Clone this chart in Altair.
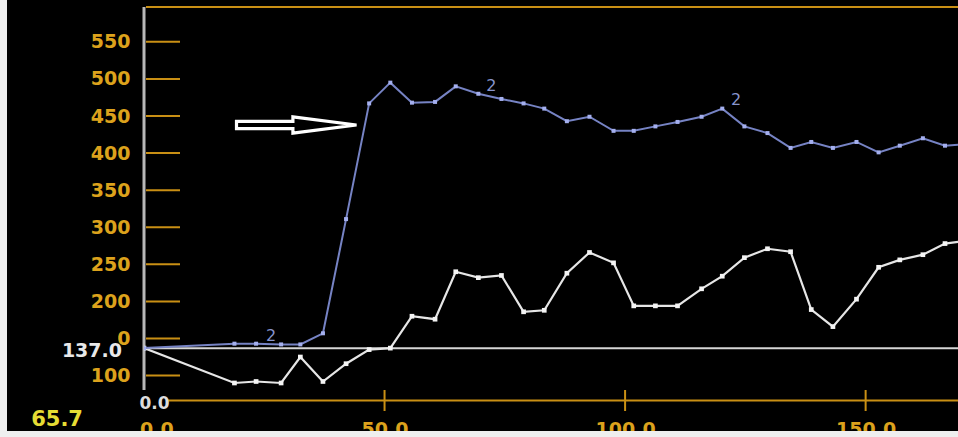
import altair as alt
import pandas as pd

# ---- data -------------------------------------------------------------
# sample positions shared by both traces
x_vals = [0, 18.8, 23.3, 28.5, 32.5, 37.2, 42.0, 46.8, 51.2, 55.7, 60.5, 64.8,
          69.5, 74.3, 78.9, 83.2, 87.9, 92.6, 97.6, 101.8, 106.3, 110.9, 115.9,
          120.2, 124.8, 129.6, 134.4, 138.7, 143.2, 148.1, 152.7, 157.1, 161.9,
          166.5, 171.0]
blue_vals = [137, 143, 143, 142, 142, 157, 311, 467, 495, 468, 469, 490,
             480, 473, 467, 460, 443, 449, 430, 430, 436, 442, 449,
             460, 436, 427, 407, 415, 407, 415, 401, 410, 420,
             410, 412]
white_vals = [137, 90, 92, 90, 125, 92, 116, 135, 137, 180, 176, 240,
              232, 235, 186, 188, 238, 266, 252, 194, 194, 194, 217,
              234, 259, 271, 267, 189, 166, 203, 246, 256, 263,
              278, 282]

# "2" markers on the blue trace
mark2_x = [26.4, 72.2, 123.1]
mark2_y = [154, 490, 471]
mark2_text = ["2", "2", "2"]

y_ticks = [100, 150, 200, 250, 300, 350, 400, 450, 500, 550]
x_ticks = [0, 50, 100, 150]
x_tick_marks = [50, 100, 150]

baseline_value = 137.0
y_min_value = 65.7
y_max_value = 597
x_max_value = 169.2

# arrow pointing at the sharp rise of the blue trace
arrow_x = [31.7]
arrow_y = [437.9]

# ---- styling ----------------------------------------------------------
ORANGE = "#c98f14"
LABEL = "#dca21c"
FONT = "DejaVu Sans"
W, H = 814, 394

xscale = alt.Scale(domain=[0, x_max_value], nice=False, zero=False)
yscale = alt.Scale(domain=[y_min_value, y_max_value], nice=False, zero=False)

xaxis = alt.Axis(values=x_ticks, format=".1f", domain=False, ticks=False, grid=False,
                 labelColor=LABEL, labelFont=FONT, labelFontWeight="bold",
                 labelFontSize=19, labelPadding=19, labelBaseline="top",
                 labelFlush=True, labelFlushOffset=4.5, title=None, orient="bottom")
yaxis = alt.Axis(values=y_ticks, format="d", domain=False, ticks=False, grid=False,
                 labelColor=LABEL, labelFont=FONT, labelFontWeight="bold",
                 labelFontSize=19, labelPadding=14, title=None, orient="left")


def X(field):
    return alt.X(field, type="quantitative", scale=xscale, axis=xaxis)


def Y(field):
    return alt.Y(field, type="quantitative", scale=yscale, axis=yaxis)


series = pd.DataFrame({"x": x_vals, "blue": blue_vals, "white": white_vals})
ytick_df = pd.DataFrame({"v": y_ticks})
xtick_df = pd.DataFrame({"t": x_tick_marks})
base_df = pd.DataFrame({"v": [baseline_value]})
mark2_df = pd.DataFrame({"x": mark2_x, "y": mark2_y, "txt": mark2_text})
arrow_df = pd.DataFrame({"x": arrow_x, "y": arrow_y})
one = pd.DataFrame({"x": [0], "y": [y_min_value], "b": [baseline_value]})

# inward y ticks
y_tick_rules = alt.Chart(ytick_df).mark_rule(color=ORANGE, strokeWidth=2).encode(
    y=Y("v"), x=alt.value(2), x2=alt.value(36))

# frame lines
top_line = alt.Chart(one).mark_rule(color=ORANGE, strokeWidth=2).encode(
    x=alt.value(2), x2=alt.value(W), y=alt.value(0))
x_line = alt.Chart(one).mark_rule(color=ORANGE, strokeWidth=2).encode(
    x=alt.value(24), x2=alt.value(W), y=alt.value(393.5))
x_tick_rules = alt.Chart(xtick_df).mark_rule(color=ORANGE, strokeWidth=2).encode(
    x=X("t"), y=alt.value(383), y2=alt.value(404))
y_line = alt.Chart(one).mark_rule(color="#b8b8b8", strokeWidth=3).encode(
    x=alt.value(0), y=alt.value(0), y2=alt.value(383))

# baseline at 137.0
base_rule = alt.Chart(base_df).mark_rule(color="#d6d6d6", strokeWidth=2).encode(
    y=Y("v"), x=alt.value(0), x2=alt.value(W))

white_line = alt.Chart(series).mark_line(color="#e6e6e6", strokeWidth=2.2, clip=True).encode(
    x=X("x"), y=Y("white"))
white_pts = alt.Chart(series).mark_point(shape="square", size=22, filled=True,
                                         color="#f4f4f4", opacity=1, clip=True).encode(
    x=X("x"), y=Y("white"))

blue_line = alt.Chart(series).mark_line(color="#7683c4", strokeWidth=2, clip=True).encode(
    x=X("x"), y=Y("blue"))
blue_pts = alt.Chart(series).mark_point(shape="square", size=16, filled=True,
                                        color="#a4afee", opacity=1, clip=True).encode(
    x=X("x"), y=Y("blue"))

mark2 = alt.Chart(mark2_df).mark_text(font=FONT, fontSize=16, color="#8794cc",
                                      baseline="middle", align="center").encode(
    x=X("x"), y=Y("y"), text="txt:N")

arrow_path = ("M -1 -0.06 L -0.06 -0.06 L -0.06 -0.135 L 1 0 "
              "L -0.06 0.135 L -0.06 0.06 L -1 0.06 Z")
arrow = alt.Chart(arrow_df).mark_point(shape=arrow_path, size=14400, filled=True,
                                       fill="black", stroke="white", strokeWidth=3.2,
                                       opacity=1).encode(x=X("x"), y=Y("y"))

# readouts at the left
label_box = alt.Chart(one).mark_rect(color="black").encode(
    x=alt.value(-137), x2=alt.value(-26), y=alt.value(322), y2=alt.value(339))
base_text = alt.Chart(one).mark_text(font=FONT, fontWeight="bold", fontSize=19,
                                     color="#e8e8e8", align="right", baseline="middle",
                                     dy=3).encode(
    x=alt.value(-22), y=Y("b"), text=alt.value("137.0"))
zero_text = alt.Chart(one).mark_text(font=FONT, fontWeight="bold", fontSize=17,
                                     color="#dcdcdc", align="left", baseline="middle",
                                     dx=-4.5, dy=3).encode(
    x=X("x"), y=Y("y"), text=alt.value("0.0"))
min_text = alt.Chart(one).mark_text(font=FONT, fontWeight="bold", fontSize=21,
                                    color="#e6dc34", align="right", baseline="middle",
                                    dy=18.5).encode(
    x=alt.value(-61), y=Y("y"), text=alt.value("65.7"))

# pale edge strips
edge_left = alt.Chart(one).mark_rect(color="#efefef", clip=False).encode(
    x=alt.value(-144), x2=alt.value(-137), y=alt.value(-7), y2=alt.value(430))
edge_bottom = alt.Chart(one).mark_rect(color="#efefef", clip=False).encode(
    x=alt.value(-144), x2=alt.value(W), y=alt.value(424), y2=alt.value(430))

chart = alt.layer(
    y_tick_rules, top_line, x_line, x_tick_rules, y_line, base_rule,
    white_line, white_pts, blue_line, blue_pts, mark2, arrow,
    label_box, base_text, zero_text, min_text, edge_left, edge_bottom,
).properties(
    width=W, height=H,
    padding={"left": 144, "top": 7, "right": 0, "bottom": 36},
    autosize=alt.AutoSizeParams(type="none"),
    background="black",
).configure_view(stroke=None)

chart.save("out.html", embed_options={"renderer": "svg", "actions": False})
